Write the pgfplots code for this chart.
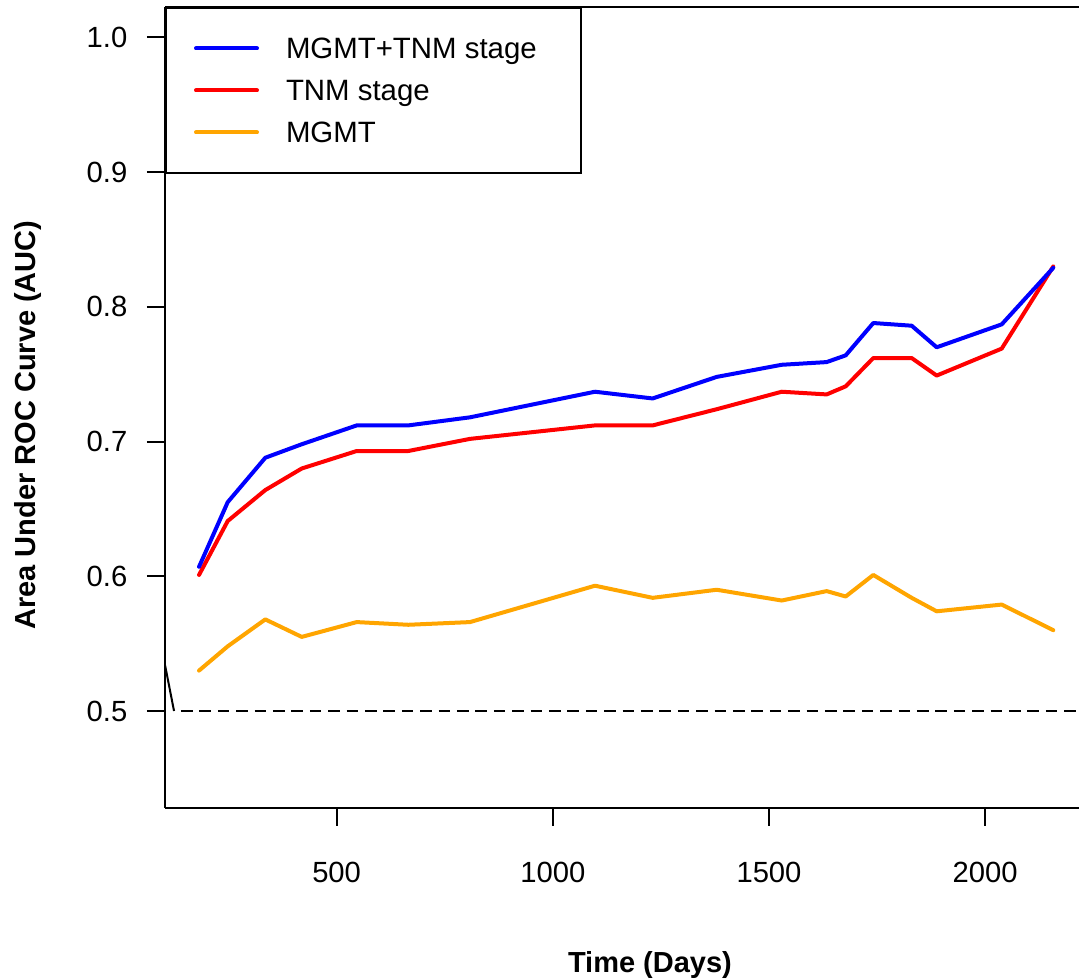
\documentclass[border=0pt]{standalone}
\usepackage{pgfplots}
\usepackage{pgfplotstable}
\pgfplotsset{compat=1.18}
\usepackage{fontspec}
\setmainfont{Liberation Sans}
\definecolor{rorange}{RGB}{255,165,0}
\pgfplotstableread{
x b r o
181.8 0.607 0.601 0.530
248.1 0.655 0.641 0.548
335.1 0.688 0.664 0.568
419.3 0.698 0.680 0.555
546.5 0.712 0.693 0.566
665.8 0.712 0.693 0.564
808.5 0.718 0.702 0.566
1097.6 0.737 0.712 0.593
1231.0 0.732 0.712 0.584
1379.0 0.748 0.724 0.590
1529.4 0.757 0.737 0.582
1633.4 0.759 0.735 0.589
1677.4 0.764 0.741 0.585
1741.2 0.788 0.762 0.601
1830.0 0.786 0.762 0.584
1887.8 0.770 0.749 0.574
2038.2 0.787 0.769 0.579
2157.5 0.829 0.830 0.560
}\auc
\begin{document}
\begin{tikzpicture}
\begin{axis}[
  name=ax,
  scale only axis, width=457pt, height=400.5pt,
  xmin=103.1, xmax=2217, ymin=0.428, ymax=1.0226,
  axis lines*=left,
  axis line style={-, line width=1pt, black},
  tick align=outside, major tick length=9pt,
  tick style={line width=1pt, black},
  xtick={500,1000,1500,2000},
  xticklabels={500,1000,1500,2000},
  ytick={0.5,0.6,0.7,0.8,0.9,1.0},
  yticklabels={0.5,0.6,0.7,0.8,0.9,1.0},
  ticklabel style={font=\fontsize{14.6}{16}\selectfont},
  yticklabel shift=6.3pt,
  xticklabel shift=14.6pt,
  xlabel={Time (Days)},
  ylabel={Area Under ROC Curve (AUC)},
  xlabel style={at={(rel axis cs:0.5306,-0.2060)}, anchor=base, font=\fontsize{14.5}{17}\selectfont\bfseries},
  ylabel style={at={(rel axis cs:-0.14223,0.478)}, anchor=base, rotate=0, font=\fontsize{14.5}{17}\selectfont\bfseries},
  legend cell align=left,
  reverse legend,
  legend style={at={(rel axis cs:0,1)}, anchor=north west, draw=black, line width=1pt, fill=white,
    inner xsep=14pt, inner ysep=15pt, row sep=10.5pt, column sep=13.5pt,
    font=\fontsize{14.7}{16}\selectfont,
    nodes={inner sep=0pt, text height=10.5pt, text depth=0pt}},
  legend image code/.code={\draw[#1, line width=2pt] (0pt,0pt) -- (30.5pt,0pt);},
]
\addplot[forget plot, black, line width=1pt, dash pattern=on 5.85pt off 3.35pt] coordinates {(140,0.5) (2217,0.5)};
\addplot[forget plot, black, line width=1pt] coordinates {(95,0.5475) (124,0.5)};
\addplot[rorange, line width=2pt, line cap=round, line join=round] table[x=x, y=o] {\auc};
\addlegendentry{MGMT}
\addplot[red, line width=2pt, line cap=round, line join=round] table[x=x, y=r] {\auc};
\addlegendentry{TNM stage}
\addplot[blue, line width=2pt, line cap=round, line join=round] table[x=x, y=b] {\auc};
\addlegendentry{MGMT+TNM stage\hspace*{8pt}}
\end{axis}
\draw[line width=1pt] (ax.north west) -- (ax.north east);
\pgfresetboundingbox
\path[use as bounding box] ([xshift=-82.5pt, yshift=-86pt]ax.south west) rectangle ([yshift=3.5pt]ax.north east);
\end{tikzpicture}
\end{document}
